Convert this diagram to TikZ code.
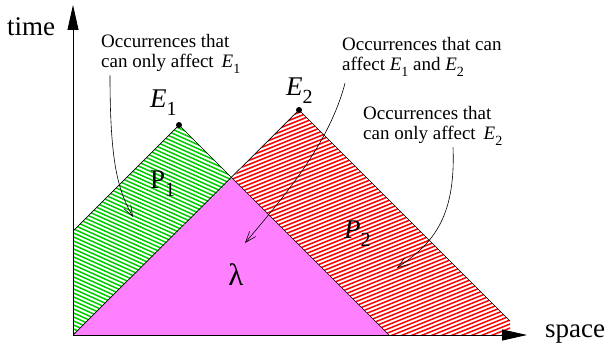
\documentclass[tikz,border=0pt]{standalone}
\usepackage{fontspec}
\setmainfont{Liberation Serif}
\usetikzlibrary{arrows.meta,positioning}
\definecolor{ink}{HTML}{000000}
\definecolor{conegreen}{HTML}{00CC00}
\definecolor{conered}{HTML}{FF0000}
\definecolor{overlap}{HTML}{FF80FF}
\tikzset{
  notetext/.style={font=\fontsize{19}{20}\selectfont,align=left,
                   inner sep=0pt,anchor=north west},
  axislabel/.style={font=\fontsize{27}{27}\selectfont,inner sep=0pt},
  eventlabel/.style={font=\fontsize{27}{27}\selectfont,inner sep=0pt,anchor=base west},
  axisarr/.style={-{Triangle[length=25pt,width=11pt]},line width=0.8pt,color=ink},
  notearr/.style={-{Straight Barb[length=11pt,width=8pt]},line width=0.6pt,color=ink},
  greenhatch/.style={conegreen,line width=1.5pt},
  redhatch/.style={conered,line width=1.5pt},
  coneline/.style={ink,line width=0.7pt}
}
\newcommand{\evsub}[3]{#1\raisebox{-0.3em}{\fontsize{#3}{#3}\selectfont #2}}

\begin{document}
\begin{tikzpicture}[x=1pt,y=-1pt]
  \useasboundingbox (0,0) rectangle (609,345);
  % light cones
  \coordinate (O) at (73,335);
  \coordinate (E1) at (179,125);
  \coordinate (E2) at (299,110);
  \coordinate (A) at (73,231);
  \coordinate (X) at (232,178);
  \coordinate (B) at (389,335);
  \coordinate (C) at (510,321);
  \coordinate (D) at (510,335);
  \fill[overlap] (O) -- (X) -- (B) -- cycle;
  \begin{scope}
    \clip (A) -- (E1) -- (X) -- (O) -- cycle;
    \foreach \c in {12,16,...,308}
      \draw[greenhatch] (0,\c) -- (250,\c+112);
  \end{scope}
  \begin{scope}
    \clip (E2) -- (C) -- (D) -- (B) -- (X) -- cycle;
    \foreach \c in {196,200,...,548}
      \draw[redhatch] (220,\c-88) -- (520,\c-208);
  \end{scope}
  \draw[coneline] (A) -- (E1) -- (B);
  \draw[coneline] (O) -- (E2) -- (C);
  \fill[ink] (E1) circle (3);
  \fill[ink] (E2) circle (3);

  % axes
  \draw[axisarr] (O) -- (73,5);
  \draw[axisarr] (O) -- (527,335);
  \node[axislabel,anchor=base] (tlabel) at (31,35) {time};
  \node[axislabel,anchor=base west] (slabel) at (545,337) {space};

  % labels
  \node[eventlabel] (e1label) at (150,107) {\evsub{\textit{E}}{1}{20}};
  \node[eventlabel] (e2label) at (286,95) {\evsub{\textit{E}}{2}{20}};
  \node[eventlabel] (p1label) at (150,188) {\evsub{P}{1}{20}};
  \node[eventlabel] (p2label) at (344,238) {\evsub{\textit{P}}{2}{20}};
  \node[eventlabel,font=\fontsize{31}{31}\selectfont,anchor=base] (lambda) at (236,285) {λ};

  % notes
  \node[notetext] (note1) at (101,34)
    {Occurrences that\\can only affect \,\evsub{\textit{E}}{1}{14}};
  \node[notetext] (note2) at (342,37)
    {Occurrences that can\\affect \evsub{\textit{E}}{1}{14} and \evsub{\textit{E}}{2}{14}};
  \node[notetext] (note3) at (363,106)
    {Occurrences that\\can only affect \,\evsub{\textit{E}}{2}{14}};
  \coordinate (t1) at (133,217);
  \coordinate (t2) at (245,243);
  \coordinate (t3) at (397,268);
  \draw[notearr] ([xshift=9pt,yshift=-2pt]note1.south west)
    .. controls +(0,88) and +(-15,-27) .. (t1);
  \draw[notearr] ([xshift=3pt,yshift=-7pt]note2.south west)
    .. controls +(-15,57) and +(45,-53) .. (t2);
  \draw[notearr] ([xshift=90pt,yshift=-2pt]note3.south west)
    .. controls +(3,74) and +(33,-23) .. (t3);
\end{tikzpicture}
\end{document}
